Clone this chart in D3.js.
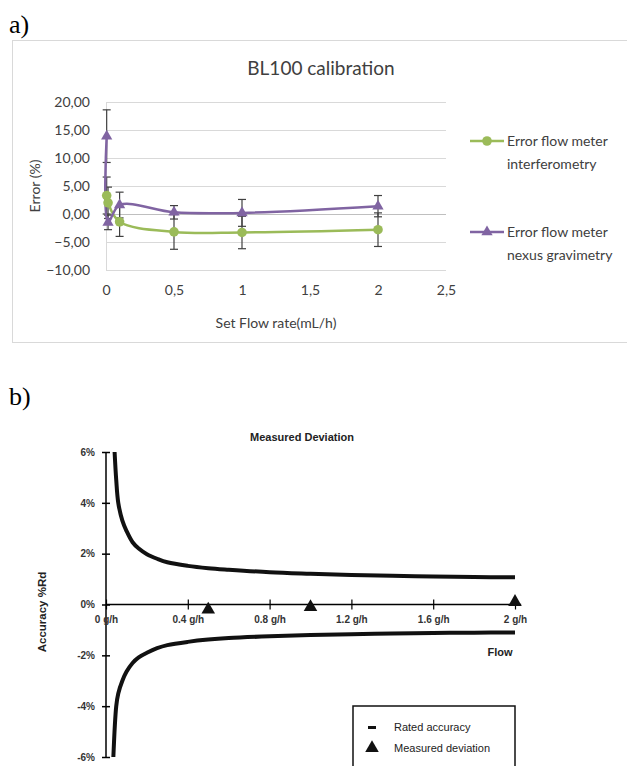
<!DOCTYPE html>
<html lang="en">
<head>
	<meta charset="UTF-8">
	<title>BL100 calibration / Measured Deviation</title>
	<script src="https://cdn.jsdelivr.net/npm/d3@7/dist/d3.min.js"></script>
	<style>
		body { margin: 0; background: #fff; }
		.calA text { font-family: Lato, "Open Sans", sans-serif; }
		.calB text { font-family: "Liberation Sans", Arial, sans-serif; }
		.panel { font-family: "Liberation Serif", "Times New Roman", serif; }
	</style>
</head>
<body>
<script type="text/javascript">

	// ---- panel a) BL100 calibration ----
	var flowA = [0.005, 0.015, 0.1, 0.5, 1, 2];
	var interf = [3.3, 2.0, -1.4, -3.2, -3.3, -2.8];
	var interfErr = [3.3, 2.8, 2.6, 3.1, 2.9, 3.0];
	var nexus = [13.9, -1.5, 1.6, 0.3, 0.2, 1.4];
	var nexusErr = [4.7, 1.3, 2.3, 1.2, 2.4, 1.9];
	var yTicksA = [-10, -5, 0, 5, 10, 15, 20];
	var xTicksA = [0, 0.5, 1, 1.5, 2, 2.5];
	var seriesNamesA = [["Error flow meter", "interferometry"], ["Error flow meter", "nexus gravimetry"]];

	// ---- panel b) Measured Deviation ----
	var flowUpper = [0.042, 0.05, 0.06, 0.08, 0.1, 0.13, 0.16, 0.2, 0.25, 0.3, 0.4, 0.5, 0.6, 0.8, 1.0, 1.2, 1.4, 1.6, 1.8, 2.0];
	var ratedUpper = [6.0, 4.9, 4.0, 3.3, 2.9, 2.45, 2.2, 1.98, 1.8, 1.66, 1.52, 1.43, 1.37, 1.27, 1.21, 1.16, 1.13, 1.1, 1.08, 1.07];
	var flowLower = [0.036, 0.05, 0.06, 0.08, 0.1, 0.13, 0.16, 0.2, 0.25, 0.3, 0.4, 0.5, 0.6, 0.8, 1.0, 1.2, 1.4, 1.6, 1.8, 2.0];
	var ratedLower = [-6.0, -4.0, -3.5, -3.0, -2.65, -2.3, -2.08, -1.9, -1.72, -1.6, -1.47, -1.38, -1.32, -1.25, -1.2, -1.17, -1.14, -1.12, -1.11, -1.1];
	var measFlow = [0.5, 1.0, 2.0];
	var measDev = [-0.2, -0.1, 0.1];
	var xTicksB = [0, 0.4, 0.8, 1.2, 1.6, 2];
	var yTicksB = [-6, -4, -2, 0, 2, 4, 6];
	var legendB = ["Rated accuracy", "Measured deviation"];

	var W = 627, H = 766;
	var svg = d3.select('body').append('svg')
		.attr('width', W)
		.attr('height', H);

	var green = '#9bbb59', purple = '#8064a2', errCol = '#404040';

	var comma = d3.formatLocale({decimal: ",", thousands: ".", grouping: [3], currency: ["", ""]});

	svg.append('text').attr('class', 'panel')
		.attr('x', 9).attr('y', 33)
		.attr('font-size', 26)
		.text('a)');

	var ga = svg.append('g').attr('class', 'calA');

	ga.append('rect')
		.attr('x', 12.5).attr('y', 40.5)
		.attr('width', 640).attr('height', 302)
		.attr('fill', 'none')
		.attr('stroke', '#d9d9d9');

	ga.append('text')
		.attr('x', 321).attr('y', 75)
		.attr('text-anchor', 'middle')
		.attr('font-size', 19)
		.attr('fill', '#404040')
		.text('BL100 calibration');

	var xa = d3.scaleLinear().domain([0, 2.5]).range([106, 446]);
	var ya = d3.scaleLinear().domain([-10, 20]).range([270, 102]);

	// gridlines
	ga.append('g').selectAll('line')
		.data(yTicksA)
		.enter().append('line')
		.attr('x1', xa(0)).attr('x2', xa(2.5))
		.attr('y1', function (d) { return ya(d) + 0.5; })
		.attr('y2', function (d) { return ya(d) + 0.5; })
		.attr('stroke', function (d) { return d === 0 ? '#bfbfbf' : '#d9d9d9'; })
		.attr('stroke-width', 1);

	ga.append('line')
		.attr('x1', xa(0) + 0.5).attr('x2', xa(0) + 0.5)
		.attr('y1', ya(20)).attr('y2', ya(-10))
		.attr('stroke', '#d9d9d9');

	var axisYA = ga.append('g')
		.attr('transform', 'translate(' + xa(0) + ',0)')
		.call(d3.axisLeft(ya).tickValues(yTicksA).tickSize(0).tickPadding(16).tickFormat(comma.format('.2f')));
	axisYA.select('.domain').remove();
	axisYA.selectAll('text').attr('font-size', 14).attr('fill', '#404040');

	var axisXA = ga.append('g')
		.attr('transform', 'translate(0,' + ya(-10) + ')')
		.call(d3.axisBottom(xa).tickValues(xTicksA).tickSize(0).tickPadding(15).tickFormat(comma.format('~g')));
	axisXA.select('.domain').remove();
	axisXA.selectAll('text').attr('font-size', 14).attr('fill', '#404040');

	ga.append('text')
		.attr('x', 276).attr('y', 328)
		.attr('text-anchor', 'middle')
		.attr('font-size', 14)
		.attr('fill', '#404040')
		.text('Set Flow rate(mL/h)');

	ga.append('text')
		.attr('transform', 'translate(40,186) rotate(-90)')
		.attr('text-anchor', 'middle')
		.attr('font-size', 14)
		.attr('fill', '#404040')
		.text('Error (%)');

	function errorBars(vals, errs) {
		var g = ga.append('g');
		flowA.forEach(function (f, i) {
			var cx = xa(f), top = ya(vals[i] + errs[i]), bot = ya(vals[i] - errs[i]);
			g.append('line').attr('x1', cx).attr('x2', cx).attr('y1', top).attr('y2', bot)
				.attr('stroke', errCol).attr('stroke-width', 1.2);
			[top, bot].forEach(function (yy) {
				g.append('line').attr('x1', cx - 4).attr('x2', cx + 4).attr('y1', yy).attr('y2', yy)
					.attr('stroke', errCol).attr('stroke-width', 1.2);
			});
		});
	}

	errorBars(interf, interfErr);
	errorBars(nexus, nexusErr);

	var lineA = d3.line()
		.x(function (d) { return xa(d[0]); })
		.y(function (d) { return ya(d[1]); })
		.curve(d3.curveCatmullRom.alpha(0.5));

	ga.append('path')
		.datum(flowA.map(function (f, i) { return [f, interf[i]]; }))
		.attr('d', lineA)
		.attr('fill', 'none').attr('stroke', green).attr('stroke-width', 2.5);

	ga.append('path')
		.datum(flowA.map(function (f, i) { return [f, nexus[i]]; }))
		.attr('d', lineA)
		.attr('fill', 'none').attr('stroke', purple).attr('stroke-width', 2.5);

	ga.append('g').selectAll('circle')
		.data(flowA)
		.enter().append('circle')
		.attr('cx', function (d) { return xa(d); })
		.attr('cy', function (d, i) { return ya(interf[i]); })
		.attr('r', 4.8)
		.attr('fill', green);

	var tri = d3.symbol().type(d3.symbolTriangle).size(55);
	ga.append('g').selectAll('path')
		.data(flowA)
		.enter().append('path')
		.attr('d', tri)
		.attr('transform', function (d, i) { return 'translate(' + xa(d) + ',' + ya(nexus[i]) + ')'; })
		.attr('fill', purple);

	// legend a
	var legA = ga.append('g');
	[[green, 141], [purple, 232]].forEach(function (item, k) {
		var ly = item[1];
		legA.append('line').attr('x1', 470).attr('x2', 504).attr('y1', ly).attr('y2', ly)
			.attr('stroke', item[0]).attr('stroke-width', 2.5);
		if (k === 0) {
			legA.append('circle').attr('cx', 487).attr('cy', ly).attr('r', 4.8).attr('fill', item[0]);
		} else {
			legA.append('path').attr('d', tri).attr('transform', 'translate(487,' + ly + ')').attr('fill', item[0]);
		}
		seriesNamesA[k].forEach(function (t, j) {
			legA.append('text').attr('x', 507).attr('y', ly + 5 + j * 23)
				.attr('font-size', 14).attr('fill', '#404040').text(t);
		});
	});

	// ---------------- panel b ----------------
	svg.append('text').attr('class', 'panel')
		.attr('x', 9).attr('y', 405)
		.attr('font-size', 26)
		.text('b)');

	var gb = svg.append('g').attr('class', 'calB');

	var xb = d3.scaleLinear().domain([0, 2]).range([106, 515]);
	var yb = d3.scaleLinear().domain([-6, 6]).range([757, 452]);

	gb.append('text')
		.attr('x', 302).attr('y', 441)
		.attr('text-anchor', 'middle')
		.attr('font-size', 11).attr('font-weight', 'bold')
		.attr('fill', '#222')
		.text('Measured Deviation');

	// y axis
	var axisYB = gb.append('g')
		.attr('transform', 'translate(' + xb(0) + ',0)')
		.call(d3.axisLeft(yb).tickValues(yTicksB).tickSize(5).tickPadding(6).tickFormat(function (d) { return d + '%'; }));
	axisYB.select('.domain').attr('d', 'M0,' + yb(6) + 'V' + yb(-6)).attr('stroke-width', 1.5);
	axisYB.selectAll('.tick line').attr('x1', 4).attr('x2', -4).attr('stroke-width', 1.5);
	axisYB.selectAll('text').attr('font-size', 10).attr('font-weight', 'bold').attr('fill', '#333');

	// x axis at 0%
	var axisXB = gb.append('g')
		.attr('transform', 'translate(0,' + yb(0) + ')')
		.call(d3.axisBottom(xb).tickValues(xTicksB).tickSize(5).tickPadding(6).tickFormat(function (d) { return d + ' g/h'; }));
	axisXB.select('.domain').attr('d', 'M' + xb(0) + ',0H' + xb(2.03)).attr('stroke-width', 1.5);
	axisXB.selectAll('.tick line').attr('y1', -5).attr('y2', 5).attr('stroke-width', 1.2);
	axisXB.selectAll('text').attr('font-size', 10).attr('font-weight', 'bold').attr('fill', '#333');

	gb.append('text')
		.attr('x', 500).attr('y', 656)
		.attr('text-anchor', 'middle')
		.attr('font-size', 11).attr('font-weight', 'bold')
		.attr('fill', '#222')
		.text('Flow');

	gb.append('text')
		.attr('transform', 'translate(46,612) rotate(-90)')
		.attr('text-anchor', 'middle')
		.attr('font-size', 11.5).attr('font-weight', 'bold')
		.attr('fill', '#222')
		.text('Accuracy %Rd');

	var lineB = d3.line()
		.x(function (d) { return xb(d[0]); })
		.y(function (d) { return yb(d[1]); })
		.curve(d3.curveCatmullRom.alpha(0.5));

	[[flowUpper, ratedUpper], [flowLower, ratedLower]].forEach(function (pair) {
		gb.append('path')
			.datum(pair[0].map(function (f, i) { return [f, pair[1][i]]; }))
			.attr('d', lineB)
			.attr('fill', 'none').attr('stroke', '#111').attr('stroke-width', 4);
	});

	var triB = d3.symbol().type(d3.symbolTriangle).size(80);
	gb.append('g').selectAll('path')
		.data(measFlow)
		.enter().append('path')
		.attr('d', triB)
		.attr('transform', function (d, i) { return 'translate(' + xb(d) + ',' + yb(measDev[i]) + ')'; })
		.attr('fill', '#111');

	// legend b
	var legB = gb.append('g');
	legB.append('path')
		.attr('d', 'M353,770V706H515V770')
		.attr('fill', 'none').attr('stroke', '#111').attr('stroke-width', 1.5);
	legB.append('rect').attr('x', 368).attr('y', 726).attr('width', 8).attr('height', 3).attr('fill', '#111');
	legB.append('path').attr('d', triB).attr('transform', 'translate(372,748)').attr('fill', '#111');
	legendB.forEach(function (t, i) {
		legB.append('text').attr('x', 394).attr('y', 731 + i * 21)
			.attr('font-size', 11).attr('fill', '#222').text(t);
	});

</script>
</body>
</html>
